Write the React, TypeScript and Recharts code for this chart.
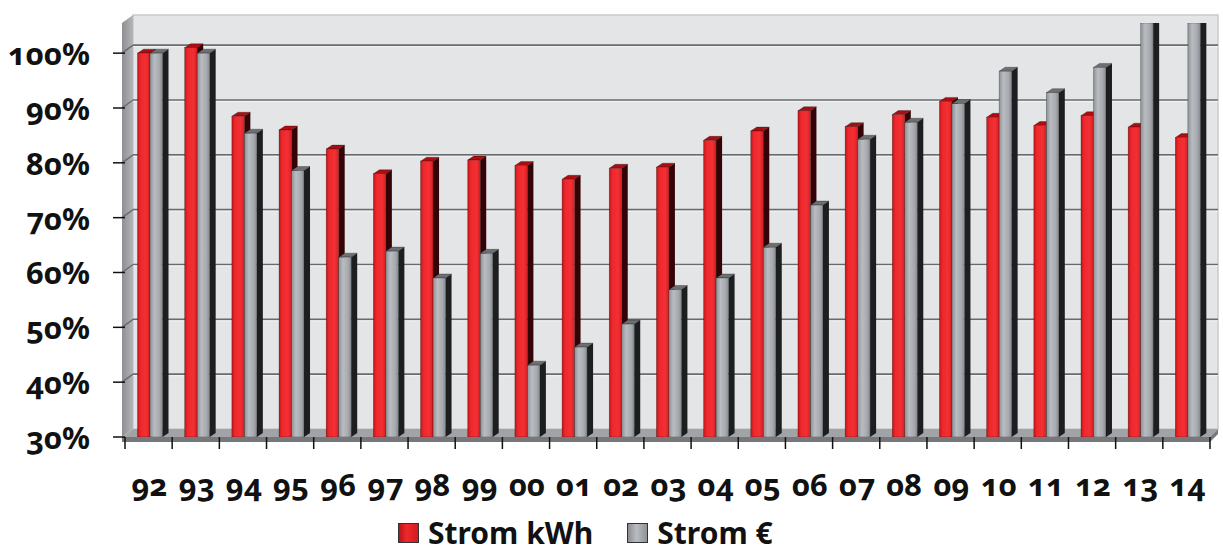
import React from 'react';
import { BarChart, Bar, XAxis, YAxis, ReferenceArea } from 'recharts';

const years = ['92', '93', '94', '95', '96', '97', '98', '99', '00', '01', '02', '03', '04', '05', '06', '07', '08', '09', '10', '11', '12', '13', '14'];
const stromKwh = [100, 101, 88.5, 86, 82.5, 78, 80.3, 80.5, 79.5, 77, 79, 79.2, 84.1, 85.8, 89.5, 86.6, 88.8, 91.2, 88.3, 86.8, 88.6, 86.5, 84.6];
const stromEuro = [100, 100, 85.4, 78.6, 62.8, 63.9, 59, 63.5, 43.1, 46.4, 50.6, 56.9, 59, 64.6, 72.3, 84.3, 87.4, 90.8, 96.7, 92.8, 97.4, 105.5, 105.5];
const yTicks = [30, 40, 50, 60, 70, 80, 90, 100];
const seriesNames = ['Strom kWh', 'Strom €'];

const data = years.map((year, i) => ({ year, kwh: stromKwh[i], euro: stromEuro[i] }));

const WIDTH = 1223;
const HEIGHT = 552;
const Y_MIN = 30;
const Y_MAX = 105.5;
// depth of the wall box and of each column
const WALL_DX = 8;
const WALL_DY = 8;
const BAR_DX = 6;
const BAR_DY = 4;
const BAR_SHIFT = 1.5;

const FONT = "'Noto Sans', sans-serif";
const textStyle: React.CSSProperties = {
  fontFamily: FONT,
  fontWeight: 700,
  fontVariantNumeric: 'oldstyle-nums',
  fontFeatureSettings: '"onum"',
};

const Wall = (props: any) => {
  const { x, y, width, height } = props;
  const bottom = y + height;
  const right = x + width;
  const yOf = (v: number) => y + ((Y_MAX - v) / (Y_MAX - Y_MIN)) * height;
  const step = width / years.length;
  return (
    <g>
      {/* back wall */}
      <rect x={x + WALL_DX} y={y - WALL_DY} width={width} height={height} fill="#e4e5e7" stroke="#c9cacc" strokeWidth={1.5} />
      {yTicks.slice(1).map((v) => (
        <g key={v}>
          <line x1={x + WALL_DX} x2={right + WALL_DX} y1={yOf(v) - WALL_DY} y2={yOf(v) - WALL_DY} stroke="#6a6b6e" strokeWidth={1.6} />
          <line x1={x + WALL_DX} x2={right + WALL_DX} y1={yOf(v) - WALL_DY + 1.5} y2={yOf(v) - WALL_DY + 1.5} stroke="#f4f4f5" strokeWidth={1} />
        </g>
      ))}
      {/* left side wall */}
      <polygon
        points={`${x - 3},${y} ${x + WALL_DX},${y - WALL_DY} ${x + WALL_DX},${bottom - WALL_DY} ${x - 3},${bottom}`}
        fill="url(#sideWall)"
      />
      {yTicks.slice(1).map((v) => (
        <line key={v} x1={x - 3} y1={yOf(v)} x2={x + WALL_DX} y2={yOf(v) - WALL_DY} stroke="#6a6b6e" strokeWidth={1.4} />
      ))}
      {/* floor */}
      <polygon
        points={`${x - 3},${bottom} ${x + WALL_DX},${bottom - WALL_DY} ${right + WALL_DX},${bottom - WALL_DY} ${right},${bottom}`}
        fill="#a2a3a6"
      />
      <polygon
        points={`${x - 3},${bottom} ${right},${bottom} ${right + WALL_DX},${bottom - WALL_DY} ${right + WALL_DX},${bottom - WALL_DY + 5} ${right},${bottom + 5} ${x - 3},${bottom + 5}`}
        fill="#77787b"
      />
      {/* tick marks */}
      {yTicks.map((v) => (
        <line key={v} x1={x - 12} x2={x} y1={yOf(v)} y2={yOf(v)} stroke="#111" strokeWidth={1.5} />
      ))}
      {years.map((yr, i) => (
        <line key={yr} x1={x + i * step} x2={x + i * step} y1={bottom} y2={bottom + 12} stroke="#111" strokeWidth={1.5} />
      ))}
      <line x1={right} x2={right} y1={bottom} y2={bottom + 12} stroke="#111" strokeWidth={1.5} />
    </g>
  );
};

const makeColumn = (frontId: string, side: string, cap: string) => (props: any) => {
  const { y, width, height } = props;
  if (!height || height <= 0) return null;
  const x = props.x + BAR_SHIFT;
  const bottom = y + height;
  return (
    <g>
      <path
        d={`M${x + width},${y} l${BAR_DX},${-BAR_DY} V${bottom - BAR_DY} l${-BAR_DX},${BAR_DY} Z`}
        fill={side}
      />
      <path
        d={`M${x},${y} l${BAR_DX},${-BAR_DY} h${width} l${-BAR_DX},${BAR_DY} Z`}
        fill={cap}
        stroke="rgba(0,0,0,0.45)"
        strokeWidth={0.6}
      />
      <rect x={x} y={y} width={width} height={height} fill={`url(#${frontId})`} stroke="rgba(0,0,0,0.4)" strokeWidth={0.6} />
    </g>
  );
};

const RedColumn = makeColumn('redFront', '#330305', '#a80e12');
const GreyColumn = makeColumn('greyFront', '#1d1e20', '#6d6f73');

const YTick = (props: any) => {
  const { y, payload } = props;
  return (
    <text x={90} y={y + 12} textAnchor="end" fontSize={31} fill="#111" style={textStyle}>
      {payload.value}%
    </text>
  );
};

const XTick = (props: any) => {
  const { x, payload } = props;
  return (
    <text x={x + 1} y={496} textAnchor="middle" fontSize={31} fill="#111" style={textStyle}>
      {payload.value}
    </text>
  );
};

const LegendItem = ({ label, fill }: { label: string; fill: string }) => (
  <div style={{ display: 'flex', alignItems: 'center', marginRight: 34 }}>
    <div style={{ width: 19, height: 18, background: fill, border: '1px solid #333', marginRight: 9 }} />
    <span>{label}</span>
  </div>
);

export default function App() {
  return (
    <div style={{ position: 'absolute', left: 0, top: 0, width: WIDTH, height: HEIGHT, background: '#fff' }}>
      <BarChart
        width={WIDTH}
        height={HEIGHT}
        data={data}
        margin={{ top: 23, right: 13, bottom: 0, left: 0 }}
        barGap={0}
        barSize={12.5}
      >
        <defs>
          <linearGradient id="redFront" x1="0" y1="0" x2="1" y2="0">
            <stop offset="0%" stopColor="#c0161a" />
            <stop offset="25%" stopColor="#ee282c" />
            <stop offset="70%" stopColor="#f23034" />
            <stop offset="100%" stopColor="#d41e22" />
          </linearGradient>
          <linearGradient id="greyFront" x1="0" y1="0" x2="1" y2="0">
            <stop offset="0%" stopColor="#8d9094" />
            <stop offset="35%" stopColor="#b9bcc0" />
            <stop offset="75%" stopColor="#a6a9ad" />
            <stop offset="100%" stopColor="#86898d" />
          </linearGradient>
          <linearGradient id="sideWall" x1="0" y1="0" x2="1" y2="0">
            <stop offset="0%" stopColor="#8e8f92" />
            <stop offset="100%" stopColor="#b4b5b8" />
          </linearGradient>
        </defs>
        <ReferenceArea y1={Y_MIN} y2={Y_MAX} shape={Wall} ifOverflow="visible" zIndex={-100} />
        <XAxis
          dataKey="year"
          height={115}
          axisLine={false}
          tickLine={false}
          interval={0}
          tick={<XTick />}
        />
        <YAxis
          type="number"
          domain={[Y_MIN, Y_MAX]}
          ticks={yTicks}
          allowDataOverflow
          width={125}
          axisLine={false}
          tickLine={false}
          tick={<YTick />}
        />
        <Bar dataKey="kwh" name={seriesNames[0]} shape={RedColumn} isAnimationActive={false} />
        <Bar dataKey="euro" name={seriesNames[1]} shape={GreyColumn} isAnimationActive={false} />
      </BarChart>
      <div
        style={{
          position: 'absolute',
          left: 398,
          top: 518,
          display: 'flex',
          alignItems: 'center',
          fontFamily: FONT,
          fontWeight: 700,
          fontSize: 30,
          lineHeight: '30px',
          color: '#111',
        }}
      >
        <LegendItem label={seriesNames[0]} fill="linear-gradient(90deg, #b81418, #f0282c 40%, #d01c20)" />
        <LegendItem label={seriesNames[1]} fill="linear-gradient(90deg, #8a8d91, #b9bcc0 45%, #8f9296)" />
      </div>
    </div>
  );
}
